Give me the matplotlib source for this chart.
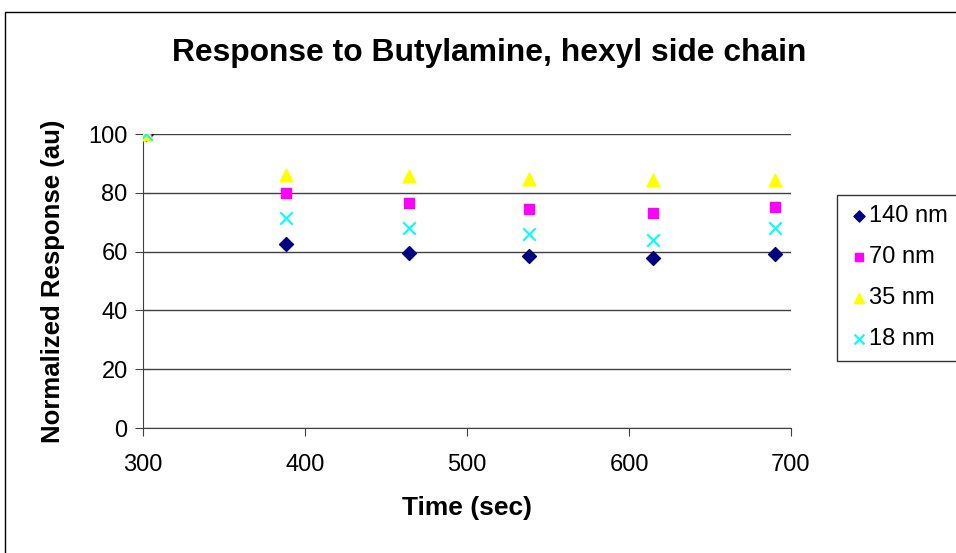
import matplotlib.pyplot as plt
from matplotlib.patches import Rectangle

plt.rcParams['font.family'] = ['Liberation Sans', 'DejaVu Sans']

# time points (sec)
time = [302, 388, 464, 538, 615, 690]

# normalized response per film thickness
r_140 = [100, 62.6, 59.7, 58.5, 57.8, 59.2]
r_70 = [100, 80.1, 76.6, 74.5, 73.2, 75.2]
r_35 = [100, 86.1, 85.6, 84.8, 84.2, 84.2]
r_18 = [100, 71.3, 67.9, 66.0, 63.9, 68.0]

fig = plt.figure(figsize=(9.56, 5.53), dpi=100)
ax = fig.add_axes([0.1496, 0.226, 0.6778, 0.5316])

# outer chart border (cut off at right/bottom like the reference)
fig.patches.append(Rectangle((5 / 956, -0.1), 1.2, 1 - 12 / 553 + 0.1,
                             transform=fig.transFigure, fill=False,
                             edgecolor='black', linewidth=1.0))

ax.scatter(time, r_140, marker='D', s=50, color='#000080', label='140 nm', zorder=3)
ax.scatter(time, r_70, marker='s', s=60, color='#FF00FF', label='70 nm', zorder=3)
ax.scatter(time, r_35, marker='^', s=85, color='#FFFF00', label='35 nm', zorder=3)
ax.scatter(time, r_18, marker='x', s=80, color='#00FFFF', linewidths=1.5,
           label='18 nm', zorder=3)

ax.set_xlim(300, 700)
ax.set_ylim(0, 100)
ax.set_xticks([300, 400, 500, 600, 700])
ax.set_yticks([0, 20, 40, 60, 80, 100])
ax.yaxis.grid(True, color='#404040', linewidth=1.0)
ax.set_axisbelow(True)

for s in ['top', 'right']:
    ax.spines[s].set_visible(False)
for s in ['left', 'bottom']:
    ax.spines[s].set_color('#404040')
ax.tick_params(axis='both', labelsize=17, length=6, color='#404040')
ax.tick_params(axis='x', pad=13)
ax.tick_params(axis='y', pad=5)

ax.set_xlabel('Time (sec)', fontsize=19, fontweight='bold', labelpad=14)
ax.set_ylabel('Normalized Response (au)', fontsize=18.5, fontweight='bold', labelpad=17)
fig.text(0.5115, 0.905, 'Response to Butylamine, hexyl side chain',
         ha='center', va='center', fontsize=22.9, fontweight='bold')

leg = fig.legend(loc='upper left', bbox_to_anchor=(0.876, 0.648),
                 bbox_transform=fig.transFigure, fontsize=17,
                 frameon=True, fancybox=False, edgecolor='black',
                 handletextpad=0.0, handlelength=0.9, labelspacing=0.8,
                 borderpad=0.45, borderaxespad=0, markerscale=0.8)
leg.get_frame().set_linewidth(1.0)

fig.savefig('out.png', dpi=100)
